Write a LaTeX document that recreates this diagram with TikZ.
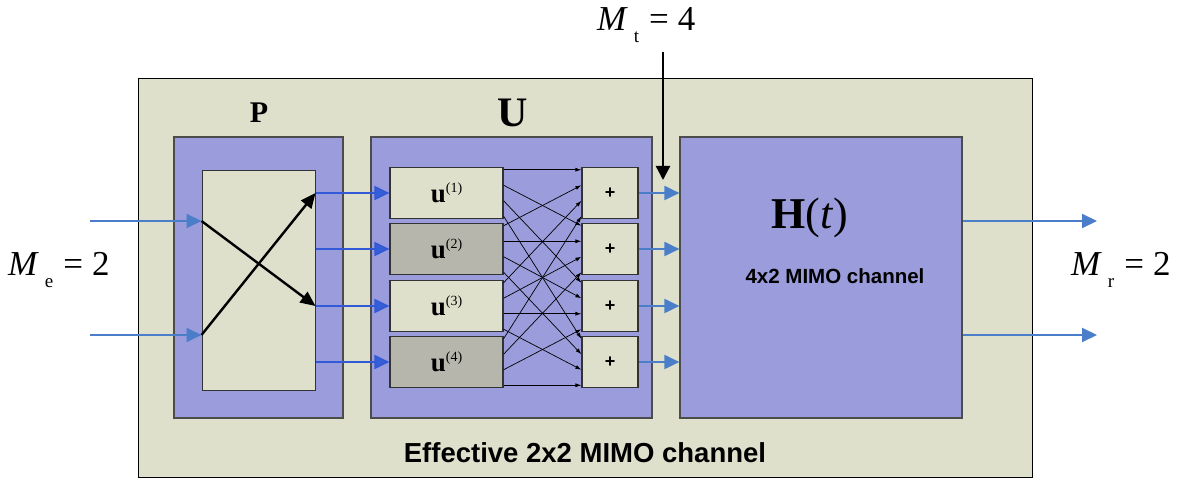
\documentclass[tikz,border=0pt]{standalone}
\usepackage{fontspec}
\setmainfont{Liberation Serif}
\setsansfont{Liberation Sans}
\usetikzlibrary{arrows.meta,calc}

\definecolor{panel}{HTML}{DEE0CC}
\definecolor{lav}{HTML}{9B9CDB}
\definecolor{shade}{HTML}{B6B6AC}
\definecolor{sigblue}{HTML}{4A7EC9}
\definecolor{brightblue}{HTML}{3159D8}

% label M_x = n
\newcommand{\dimlabel}[2]{\textit{M}\hspace{6pt}\raisebox{-12pt}{\fontsize{19}{19}\selectfont #1}\hspace{10pt}=\hspace{9pt}#2}
\newcommand{\uvec}[1]{{\fontsize{27}{27}\selectfont\bfseries u}\raisebox{10pt}{\fontsize{14}{14}\selectfont (#1)}}

\begin{document}
\begin{tikzpicture}[x=1pt, y=-1pt,
    outer/.style={fill=panel, draw=black, line width=0.8pt, inner sep=0pt},
    block/.style={fill=lav, draw=black!70, line width=1.2pt, inner sep=0pt},
    inner/.style={fill=panel, draw=black!80, line width=1pt, inner sep=0pt},
    ubox/.style={fill=panel, draw=black!80, line width=1.2pt, minimum width=113pt, minimum height=51pt, inner sep=0pt},
    sumbox/.style={ubox, minimum width=56pt, font=\sffamily\bfseries\fontsize{18}{18}\selectfont},
    sig/.style={draw=sigblue, line width=2pt, -{Triangle[length=15pt,width=14pt]}},
    feed/.style={draw=brightblue, line width=2pt, -{Triangle[length=15pt,width=14pt,fill=brightblue!85!sigblue]}},
    mix/.style={draw=black, line width=0.7pt, -{Latex[length=6pt,width=4pt]}},
    cross/.style={draw=black, line width=2.4pt, -{Triangle[length=15pt,width=13pt]}},
    mathlab/.style={font=\fontsize{35}{35}\selectfont, inner sep=0pt}]
  \useasboundingbox[fill=white] (0,0) rectangle (1189,478);
  % Effective channel frame
  \node[outer, minimum width=894pt, minimum height=399pt] (eff) at (585,277.5) {};
  \node[font=\sffamily\bfseries\fontsize{27.5}{27.5}\selectfont] (efflab) at (585,453) {Effective 2x2 MIMO channel};
  % Blocks P, U, H
  \node[block, minimum width=169pt, minimum height=281pt] (P) at (258.5,277.5) {};
  \node[inner, minimum width=113pt, minimum height=219pt] (pin) at (258.5,280.5) {};
  \node[block, minimum width=281pt, minimum height=281pt] (U) at (511.5,277.5) {};
  \node[block, minimum width=282pt, minimum height=281pt] (H) at (821,277.5) {};
  \node[font=\bfseries\fontsize{30}{30}\selectfont] (Plab) at (259,113) {P};
  \node[font=\bfseries\fontsize{42}{42}\selectfont] (Ulab) at (513,113) {U};
  \node[font=\fontsize{44}{44}\selectfont] (Hlab) at (810,218) {\textbf{H}(\textit{t})};
  \node[font=\sffamily\bfseries\fontsize{20.5}{20.5}\selectfont] (Hsub) at (835,276) {4x2 MIMO channel};
  % Precoder rows and adders
  \foreach \i/\y in {1/193,2/249,3/306,4/362} {
    \node[ubox] (u\i) at (446.5,\y) {\uvec{\i}};
    \node[sumbox] (s\i) at (610,\y) {+};
  }
  \node[ubox, fill=shade] at (u2) {\uvec{2}};
  \node[ubox, fill=shade] at (u4) {\uvec{4}};
  % all-to-all mixing
  \foreach \i in {1,...,4}
    \foreach \k in {1,...,4}
      \draw[mix] ($(u\i.east)+(0,{(\k-2.5)*15.5})$) -- ($(s\k.west)+(0,{(\i-2.5)*15.5})$);
  % Inputs and permutation
  \coordinate (in1) at (90,221);
  \coordinate (in2) at (90,335);
  \draw[sig] (in1) -- (pin.west |- in1);
  \draw[sig] (in2) -- (pin.west |- in2);
  \draw[cross] (pin.west |- in1) -- (pin.east |- u3);
  \draw[cross] (pin.west |- in2) -- (pin.east |- u1);
  \foreach \i in {1,...,4} {
    \draw[feed] (pin.east |- u\i) -- (u\i.west);
    \draw[sig] (s\i.east) -- (s\i.east -| H.west);
  }
  % Outputs
  \coordinate (out1) at (1097,221);
  \coordinate (out2) at (1097,335);
  \draw[sig] (H.east |- in1) -- (out1);
  \draw[sig] (H.east |- in2) -- (out2);
  % Antenna counts
  \node[mathlab, anchor=west] (Me) at (8,270) {\dimlabel{e}{2}};
  \node[mathlab, anchor=west] (Mr) at (1071,270) {\dimlabel{r}{2}};
  \node[mathlab, anchor=west] (Mt) at (597,25) {\dimlabel{t}{4}};
  \coordinate (mtstart) at (663,52);
  \coordinate (mtend) at (663,180);
  \draw[draw=black, line width=2.4pt, -{Triangle[length=14pt,width=14pt]}] (mtstart) -- (mtend);
\end{tikzpicture}
\end{document}
